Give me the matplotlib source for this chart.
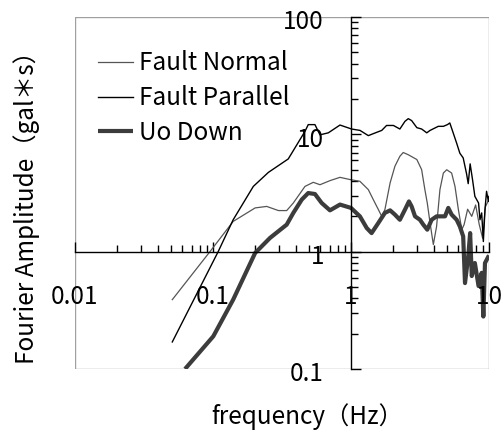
import matplotlib
matplotlib.use("Agg")
import matplotlib.pyplot as plt
from matplotlib.patches import Rectangle
from matplotlib.ticker import LogLocator, NullFormatter

plt.rcParams['font.family'] = ['Noto Sans CJK JP', 'DejaVu Sans']

# ---- data ----
fn_x = [0.0507, 0.095, 0.140, 0.202, 0.245, 0.298, 0.342, 0.382, 0.464, 0.533, 0.596, 0.704,
        0.832, 1.0, 1.16, 1.335, 1.45, 1.58, 1.67, 1.76, 1.92, 2.08, 2.26, 2.39, 2.60, 3.0,
        3.25, 3.43, 3.57, 3.74, 3.95, 4.17, 4.41, 4.67, 4.94, 5.36, 5.67, 6.0, 6.35, 6.6,
        7.0, 7.5, 8.0, 8.5, 9.0, 9.4, 10.0]
fn_y = [0.39, 1.0, 1.81, 2.36, 2.43, 2.24, 2.24, 2.60, 3.6, 3.9, 3.72, 4.03,
        4.3, 4.1, 3.98, 3.38, 2.78, 2.28, 2.0, 2.28, 3.85, 5.34, 6.5, 7.0, 6.7, 6.1,
        5.0, 3.38, 2.6, 1.76, 1.15, 1.64, 3.38, 4.68, 4.99, 4.68, 3.6, 2.28, 1.54, 1.7,
        2.3, 2.0, 2.5, 1.7, 1.3, 2.4, 2.8]

fp_x = [0.0507, 0.109, 0.140, 0.196, 0.252, 0.351, 0.464, 0.490, 0.548, 0.596, 0.685, 0.832,
        1.01, 1.162, 1.335, 1.535, 1.67, 1.81, 2.03, 2.26, 2.46, 2.60, 2.75, 3.0, 3.25,
        3.54, 3.74, 4.29, 4.67, 5.0, 5.2, 5.5, 5.83, 6.15, 6.5, 6.88, 7.07, 7.3, 7.6,
        7.9, 8.4, 8.6, 8.85, 9.1, 9.35, 9.6, 9.9, 10.0]
fp_y = [0.170, 1.0, 1.87, 3.6, 4.74, 6.17, 10.6, 12.1, 12.1, 9.9, 10.3, 12.0,
        11.1, 10.8, 9.75, 10.4, 10.8, 11.9, 11.9, 11.1, 12.9, 13.6, 13.1, 11.4, 11.1,
        10.3, 10.8, 11.7, 11.7, 12.1, 12.5, 10.3, 8.4, 6.9, 6.3, 4.6, 3.8, 5.6, 4.1,
        2.96, 2.6, 1.87, 2.14, 1.22, 2.28, 3.27, 2.68, 2.96]

uo_x = [0.0627, 0.1005, 0.140, 0.202, 0.259, 0.342, 0.382, 0.44, 0.49, 0.548, 0.613, 0.704,
        0.832, 1.0, 1.16, 1.30, 1.41, 1.58, 1.76, 1.92, 2.08, 2.26, 2.46, 2.63, 2.75, 2.91,
        3.16, 3.34, 3.57, 3.84, 4.17, 4.54, 4.8, 5.07, 5.36, 5.83, 6.15, 6.5, 6.7, 7.07,
        7.3, 7.5, 7.9, 8.4, 8.85, 9.1, 9.35, 9.9, 10.0]
uo_y = [0.1, 0.19, 0.39, 0.975, 1.31, 1.70, 2.14, 2.78, 3.16, 3.1, 2.6, 2.25,
        2.52, 2.36, 2.0, 1.59, 1.44, 1.76, 2.14, 2.25, 2.07, 1.87, 2.28, 2.68, 2.43, 2.0,
        1.87, 1.70, 1.54, 1.87, 2.0, 2.0, 2.0, 2.36, 2.07, 1.87, 1.64, 1.35, 0.54, 0.91,
        1.44, 0.62, 0.80, 0.51, 0.66, 0.28, 0.80, 0.91, 0.93]

x_ticks = [0.01, 0.1, 1, 10]
x_tick_labels = ["0.01", "0.1", "1", "10"]
y_ticks = [0.1, 1, 10, 100]
y_tick_labels = ["0.1", "1", "10", "100"]

FS = 17.5

fig = plt.figure(figsize=(5.04, 4.33), dpi=100)
ax = fig.add_axes([75/504, 1-369/433, 414/504, 352/433])
ax.set_xscale('log')
ax.set_yscale('log')
ax.set_xlim(0.01, 10)
ax.set_ylim(0.1, 100)

ax.plot(fn_x, fn_y, color='#555555', lw=0.9, label='Fault Normal')
ax.plot(fp_x, fp_y, color='black', lw=1.0, label='Fault Parallel')
ax.plot(uo_x, uo_y, color='#3c3c3c', lw=3.0, label='Uo Down', solid_capstyle='butt')

# spines crossing at (1,1)
ax.spines['left'].set_position(('data', 1))
ax.spines['bottom'].set_position(('data', 1))
ax.spines['top'].set_visible(False)
ax.spines['right'].set_visible(False)
for s in ('left', 'bottom'):
    ax.spines[s].set_color('black')
    ax.spines[s].set_linewidth(1.0)
ax.add_patch(Rectangle((0, 0), 1, 1, transform=ax.transAxes, fill=False,
                       edgecolor='#a0a0a0', lw=1.0, zorder=0.5))

ax.set_xticks(x_ticks)
ax.set_yticks(y_ticks)
ax.xaxis.set_minor_locator(LogLocator(base=10, subs=range(2, 10)))
ax.yaxis.set_minor_locator(LogLocator(base=10, subs=range(2, 10)))
ax.xaxis.set_minor_formatter(NullFormatter())
ax.yaxis.set_minor_formatter(NullFormatter())
ax.tick_params(which='major', direction='in', length=7, width=1.0, color='black',
               labelbottom=False, labelleft=False)
ax.tick_params(which='minor', direction='in', length=5, width=1.0, color='black')

# tick labels placed like the original
for t, lab in zip(x_ticks, x_tick_labels):
    ax.annotate(lab, xy=(t, 1), xycoords='data', xytext=(0, -32.5),
                textcoords='offset points', ha='center', va='center',
                fontsize=FS, annotation_clip=False)
for t, lab in zip(y_ticks, y_tick_labels):
    ax.annotate(lab, xy=(1, t), xycoords='data', xytext=(-19.5, -3.8),
                textcoords='offset points', ha='right', va='center',
                fontsize=FS, annotation_clip=False)

fig.text(307/504, 1-417/433, "frequency（Hz）", ha='center', va='center', fontsize=FS)
fig.text(27/504, 1-202/433, "Fourier Amplitude（gal＊s）", ha='center', va='center',
         rotation=90, fontsize=FS)

leg = ax.legend(loc='upper left', bbox_to_anchor=(0.055, 0.905), frameon=False,
                fontsize=FS, handlelength=1.45, handletextpad=0.25, labelspacing=0.36,
                borderpad=0, borderaxespad=0)

fig.savefig("out.png", dpi=100)
